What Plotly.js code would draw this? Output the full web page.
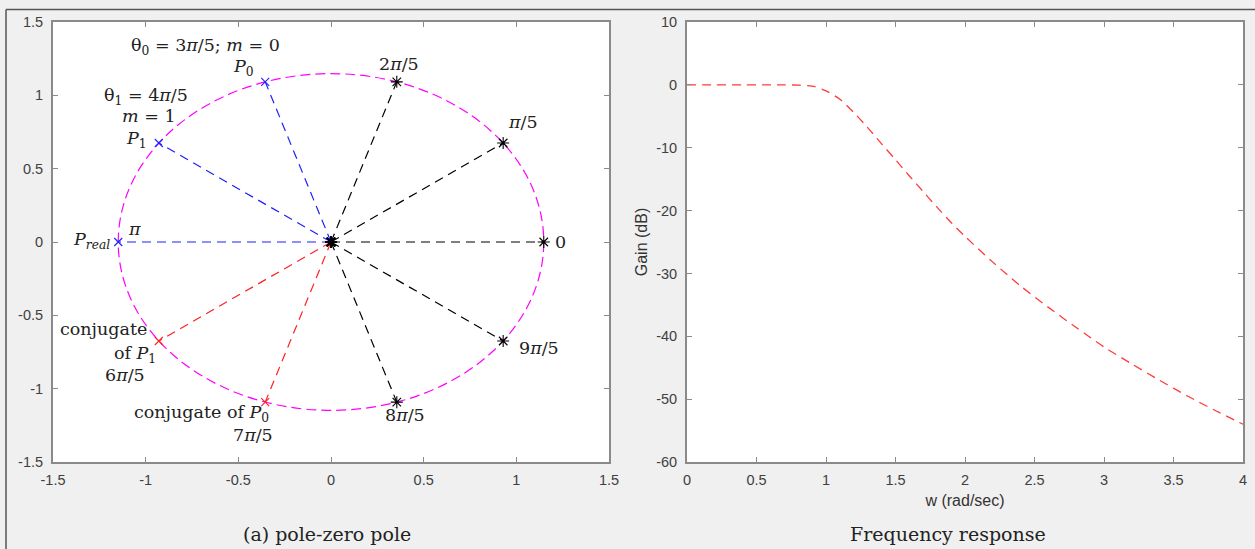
<!DOCTYPE html>
<html>
<head>
<meta charset="utf-8">
<script src="https://cdn.plot.ly/plotly-3.0.1.min.js"></script>
<style>
html,body{margin:0;padding:0;background:#f0f0f0;}
#chart{width:1255px;height:549px;}
</style>
</head>
<body>
<div id="chart"></div>
<script>
// ---------- data: pole-zero panel ----------
const poleAngleLabels = ['0', 'π/5', '2π/5', '3π/5', '4π/5', 'π', '6π/5', '7π/5', '8π/5', '9π/5'];
const poleRe = [1.148, 0.929, 0.355, -0.355, -0.929, -1.148, -0.929, -0.355, 0.355, 0.929];
const poleIm = [0, 0.675, 1.092, 1.092, 0.675, 0, -0.675, -1.092, -1.092, -0.675];
const poleGroup = ['black', 'black', 'black', 'blue', 'blue', 'blue', 'red', 'red', 'black', 'black'];
const circleRadius = 1.148;

// ---------- data: frequency response panel ----------
const freqW = [0, 0.2, 0.4, 0.6, 0.7, 0.8, 0.9, 1.0, 1.1, 1.2, 1.3, 1.4, 1.5, 1.6, 1.7, 1.8, 1.9, 2.0, 2.2, 2.4, 2.6, 2.8, 3.0, 3.2, 3.4, 3.6, 3.8, 4.0];
const gainDb = [0, 0, 0, 0, -0.01, -0.05, -0.2, -0.95, -2.3, -4.4, -6.8, -9.4, -11.9, -14.5, -17.0, -19.5, -21.9, -24.1, -28.2, -32.0, -35.4, -38.6, -41.7, -44.4, -47.0, -49.5, -51.8, -54.0];

// ---------- tick labels ----------
const pzTicks = [-1.5, -1, -0.5, 0, 0.5, 1, 1.5];
const pzTickText = ['-1.5', '-1', '-0.5', '0', '0.5', '1', '1.5'];
const wTicks = [0, 0.5, 1, 1.5, 2, 2.5, 3, 3.5, 4];
const wTickText = ['0', '0.5', '1', '1.5', '2', '2.5', '3', '3.5', '4'];
const gTicks = [-60, -50, -40, -30, -20, -10, 0, 10];
const gTickText = ['-60', '-50', '-40', '-30', '-20', '-10', '0', '10'];

// ---------- annotation texts (left panel) ----------
const pzLabels = [
  {t: 'θ<sub>0</sub> = 3<i>π</i>/5; <i>m</i> = 0', x: -0.675, y: 1.33},
  {t: '<i>P</i><sub>0</sub>', x: -0.47, y: 1.19},
  {t: '2<i>π</i>/5', x: 0.367, y: 1.215},
  {t: 'θ<sub>1</sub> = 4<i>π</i>/5', x: -1.0, y: 0.995},
  {t: '<i>m</i> = 1', x: -0.98, y: 0.86},
  {t: '<i>P</i><sub>1</sub>', x: -1.05, y: 0.70},
  {t: '<i>π</i>/5', x: 1.036, y: 0.82},
  {t: '<i>P<sub>real</sub></i>', x: -1.29, y: 0.01},
  {t: '<i>π</i>', x: -1.06, y: 0.09},
  {t: '0', x: 1.236, y: 0.0},
  {t: 'conjugate', x: -1.23, y: -0.595},
  {t: 'of <i>P</i><sub>1</sub>', x: -1.06, y: -0.77},
  {t: '6<i>π</i>/5', x: -1.11, y: -0.905},
  {t: '9<i>π</i>/5', x: 1.122, y: -0.72},
  {t: 'conjugate of <i>P</i><sub>0</sub>', x: -0.70, y: -1.17},
  {t: '7<i>π</i>/5', x: -0.42, y: -1.315},
  {t: '8<i>π</i>/5', x: 0.40, y: -1.18}
];

// ---------- build traces ----------
const colorMap = {black: '#000000', blue: '#1f1fff', red: '#ff2020'};
const rayDash = '9px,6px';

function rayTrace(group, symbol) {
  const xs = [], ys = [];
  for (let i = 0; i < poleRe.length; i++) {
    if (poleGroup[i] !== group) continue;
    xs.push(0, poleRe[i], null);
    ys.push(0, poleIm[i], null);
  }
  return {
    x: xs, y: ys, xaxis: 'x', yaxis: 'y', type: 'scatter', mode: 'lines+markers',
    line: {color: colorMap[group], width: 1.2, dash: rayDash},
    marker: {symbol: symbol, size: symbol === 'asterisk-open' ? 10 : 8,
             color: colorMap[group], line: {color: colorMap[group], width: 1.1}},
    hoverinfo: 'skip', showlegend: false, cliponaxis: false
  };
}

const traces = [
  rayTrace('red', 'x-thin-open'),
  rayTrace('blue', 'x-thin-open'),
  rayTrace('black', 'asterisk-open'),
  {
    x: freqW, y: gainDb, xaxis: 'x2', yaxis: 'y2', type: 'scatter', mode: 'lines',
    line: {color: '#ff3b3b', width: 1.3, dash: rayDash, shape: 'spline', smoothing: 0.8},
    hoverinfo: 'skip', showlegend: false
  }
];

const serif = 'DejaVu Serif, serif';
const annotations = pzLabels.map(a => ({
  text: a.t, x: a.x, y: a.y, xref: 'x', yref: 'y', showarrow: false,
  xanchor: 'center', yanchor: 'middle',
  font: {family: serif, size: 17.5, color: '#222'}
}));
annotations.push(
  {text: '(a) pole-zero pole', x: 327 / 1255, y: (549 - 534) / 549, xref: 'paper', yref: 'paper',
   xanchor: 'center', yanchor: 'middle',
   showarrow: false, font: {family: serif, size: 19, color: '#222'}},
  {text: 'Frequency response', x: 948 / 1255, y: (549 - 534) / 549, xref: 'paper', yref: 'paper',
   xanchor: 'center', yanchor: 'middle',
   showarrow: false, font: {family: serif, size: 19, color: '#222'}}
);

const axisCommon = {
  showline: true, mirror: 'ticks', linecolor: '#8a8a8a', linewidth: 2,
  ticks: 'inside', ticklen: 5, tickwidth: 1, tickcolor: '#8a8a8a',
  showgrid: false, zeroline: false, fixedrange: true,
  tickfont: {family: 'Liberation Sans, Arial, sans-serif', size: 14.5, color: '#404040'}
};

const yBot = (549 - 462) / 549, yTop = (549 - 22) / 549;

const layout = {
  width: 1255, height: 549,
  margin: {l: 0, r: 0, t: 0, b: 0},
  paper_bgcolor: '#f0f0f0', plot_bgcolor: '#ffffff',
  showlegend: false,
  xaxis: Object.assign({}, axisCommon, {
    domain: [53 / 1255, 609 / 1255], range: [-1.5, 1.5], tickvals: pzTicks, ticktext: pzTickText, anchor: 'y',
    ticklabelstandoff: 4
  }),
  yaxis: Object.assign({}, axisCommon, {
    domain: [yBot, yTop], range: [-1.5, 1.5], tickvals: pzTicks, ticktext: pzTickText, anchor: 'x',
    ticklabelstandoff: 5
  }),
  xaxis2: Object.assign({}, axisCommon, {
    domain: [687 / 1255, 1243 / 1255], range: [0, 4], tickvals: wTicks, ticktext: wTickText, anchor: 'y2',
    ticklabelstandoff: 4,
    title: {text: 'w (rad/sec)', standoff: 7, font: {family: 'Liberation Sans, Arial, sans-serif', size: 16, color: '#333'}}
  }),
  yaxis2: Object.assign({}, axisCommon, {
    domain: [yBot, yTop], range: [-60, 10], tickvals: gTicks, ticktext: gTickText, anchor: 'x2',
    ticklabelstandoff: 5,
    title: {text: 'Gain (dB)', standoff: 5, font: {family: 'Liberation Sans, Arial, sans-serif', size: 16, color: '#333'}}
  }),
  shapes: [
    {type: 'circle', xref: 'x', yref: 'y', x0: -circleRadius, x1: circleRadius, y0: -circleRadius, y1: circleRadius,
     line: {color: '#ff00ff', width: 1.2, dash: '10px,5px'}, layer: 'below'},
    {type: 'line', xref: 'paper', yref: 'paper', x0: 6 / 1255, x1: 1, y0: (549 - 9.5) / 549, y1: (549 - 9.5) / 549,
     line: {color: '#555', width: 1.5}},
    {type: 'line', xref: 'paper', yref: 'paper', x0: 6 / 1255, x1: 6 / 1255, y0: 0, y1: (549 - 9.5) / 549,
     line: {color: '#555', width: 1.5}}
  ],
  annotations: annotations
};

Plotly.newPlot('chart', traces, layout, {staticPlot: true, displayModeBar: false});
</script>
</body>
</html>
